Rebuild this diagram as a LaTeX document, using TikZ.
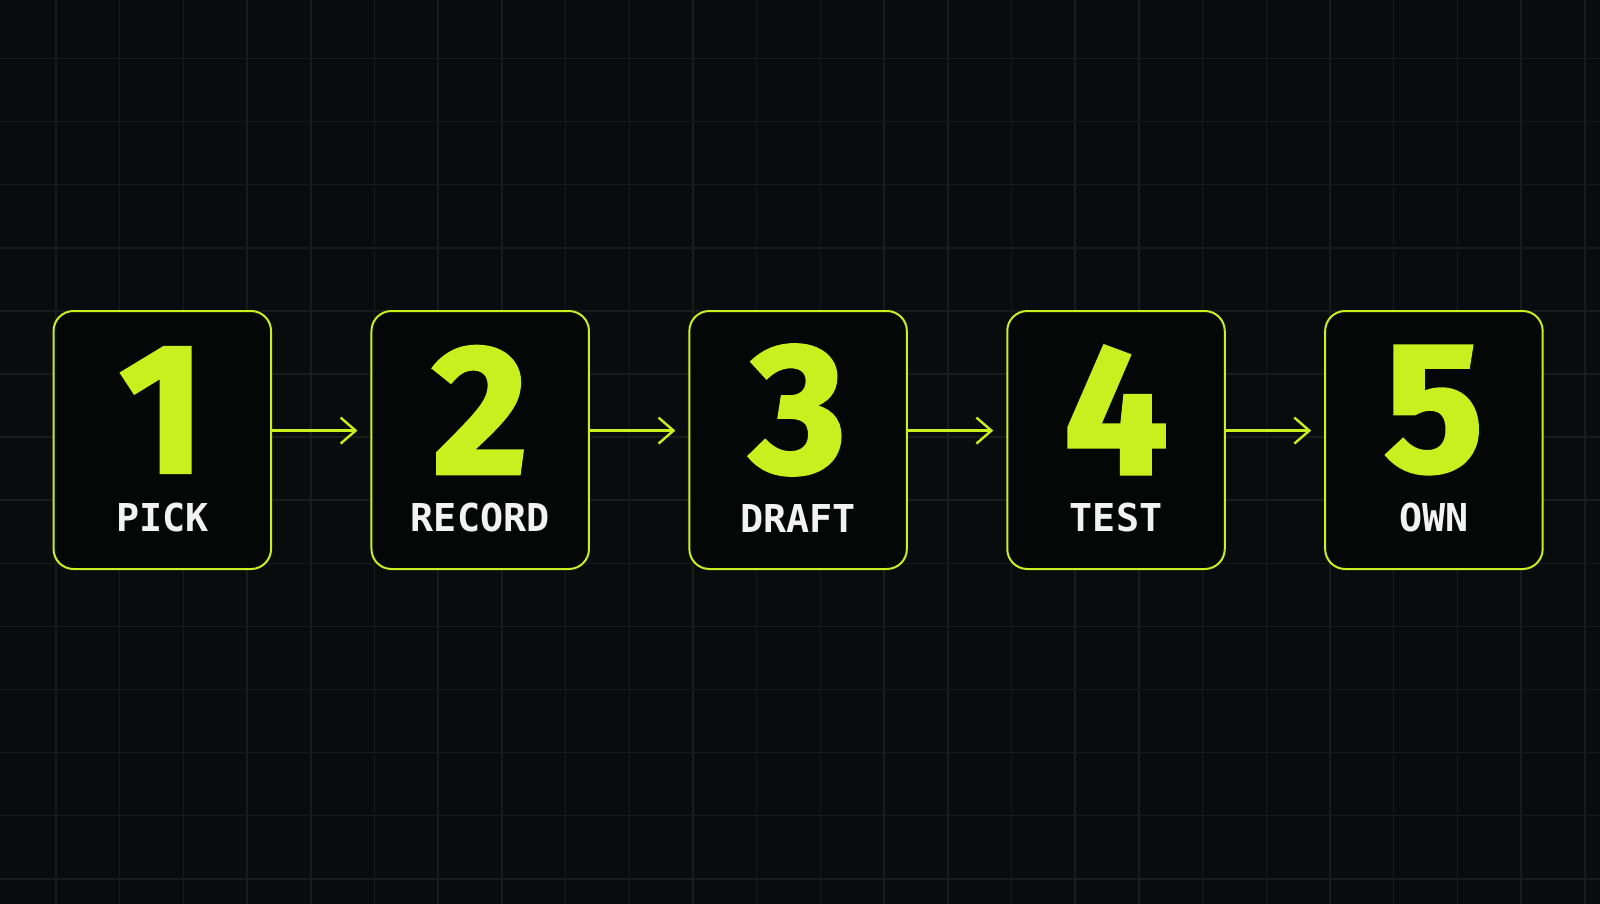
\documentclass[tikz,border=0pt]{standalone}
\usepackage{fontspec}
\usetikzlibrary{positioning,arrows.meta}

\newfontfamily\digitfont[FakeBold=2]{Fira Sans Bold}
\newfontfamily\labelfont{DejaVu Sans Mono Bold}

\definecolor{stepgreen}{HTML}{C8F01E}
\definecolor{bgblack}{HTML}{0A0B0C}
\definecolor{gridgray}{HTML}{181B1C}
\definecolor{boxblack}{HTML}{050606}
\definecolor{labelwhite}{HTML}{F2F2F2}

\begin{document}
\begin{tikzpicture}[x=0.5pt,y=-0.5pt,
    stepbox/.style={draw=stepgreen, line width=1pt, fill=boxblack, rounded corners=10pt,
        minimum width=108.75pt, minimum height=129pt, inner sep=0pt},
    digit/.style={text=stepgreen, font=\digitfont\fontsize{92pt}{92pt}\selectfont, inner sep=0pt},
    steplabel/.style={text=labelwhite, font=\labelfont\fontsize{19.2pt}{19.2pt}\selectfont, inner sep=0pt},
    gridline/.style={gridgray, line width=0.75pt},
    flow/.style={stepgreen, line width=1.2pt, -{Straight Barb[length=7.5pt,width=13pt]}, shorten >=6.5pt},
    node distance=49.2pt]
        % Background and grid
        \fill[bgblack] (0,0) rectangle (1600,904);
        \useasboundingbox (0,0) rectangle (1600,904);
        \foreach \k in {0,...,24}
            \draw[gridline] ({56+63.7*\k},0) -- ({56+63.7*\k},904);
        \foreach \k in {0,...,13}
            \draw[gridline] (0,{58.5+63.1*\k}) -- (1600,{58.5+63.1*\k});

        % Steps
        \node[stepbox] (box1) at (162.3,440) {};
        \node[stepbox, right=of box1] (box2) {};
        \node[stepbox, right=of box2] (box3) {};
        \node[stepbox, right=of box3] (box4) {};
        \node[stepbox, right=of box4] (box5) {};

        \foreach \i/\txt in {1/PICK, 2/RECORD, 3/DRAFT, 4/TEST, 5/OWN} {
            \node[digit] (num\i) at ([yshift=15pt]box\i.center) {\i};
            \node[steplabel] (lab\i) at ([yshift=-39pt]box\i.center) {\txt};
        }

        % Arrows
        \foreach \a/\b in {box1/box2, box2/box3, box3/box4, box4/box5}
            \draw[flow] ([yshift=4.7pt]\a.east) -- ([yshift=4.7pt]\b.west);
\end{tikzpicture}
\end{document}
